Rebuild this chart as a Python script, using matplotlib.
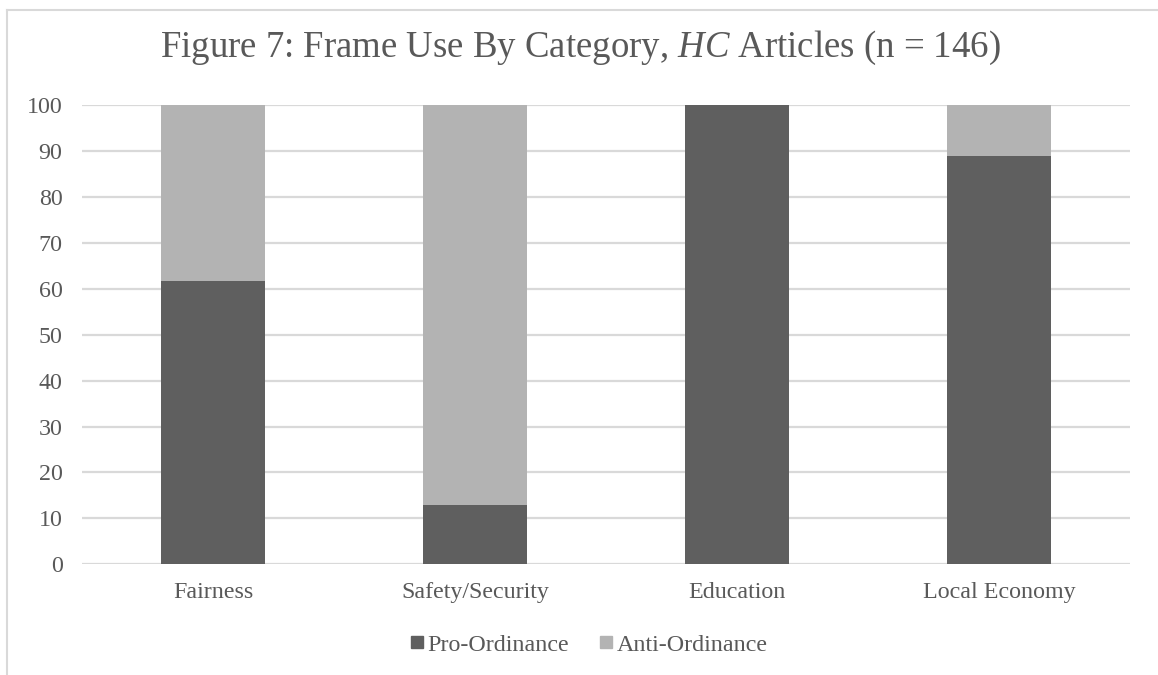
import matplotlib.pyplot as plt
from matplotlib.lines import Line2D

categories = ["Fairness", "Safety/Security", "Education", "Local Economy"]
pro_ordinance = [61.6, 12.9, 100.0, 88.9]
anti_ordinance = [38.4, 87.1, 0.0, 11.1]
y_ticks = [0, 10, 20, 30, 40, 50, 60, 70, 80, 90, 100]

dark = "#5f5f5f"
light = "#b3b3b3"
text_col = "#595959"
grid_col = "#d9d9d9"

plt.rcParams["font.family"] = ["Liberation Serif", "DejaVu Serif"]
plt.rcParams["mathtext.fontset"] = "custom"
plt.rcParams["mathtext.rm"] = "Liberation Serif"
plt.rcParams["mathtext.it"] = "Liberation Serif:italic"

fig = plt.figure(figsize=(11.58, 6.75), dpi=100)
ax = fig.add_axes([0.0708, 0.164, 0.905, 0.6804])

x = range(len(categories))
ax.bar(x, pro_ordinance, width=0.4, color=dark, zorder=3)
ax.bar(x, anti_ordinance, width=0.4, bottom=pro_ordinance, color=light, zorder=3)

ax.set_xlim(-0.5, 3.5)
ax.set_ylim(0, 100)
ax.set_yticks(y_ticks)
ax.set_xticks(list(x))
ax.set_xticklabels(categories)
ax.yaxis.grid(True, color=grid_col, linewidth=1.6, zorder=0)
ax.tick_params(length=0, labelsize=17.3, colors=text_col)
ax.tick_params(axis="x", pad=13)
ax.tick_params(axis="y", pad=14)
for s in ax.spines.values():
    s.set_visible(False)

fig.text(0.501, 0.929, "Figure 7: Frame Use By Category, $\\mathit{HC}$ Articles (n = 146)",
         ha="center", va="center", fontsize=26.5, color=text_col)

handles = [Line2D([], [], marker="s", linestyle="none", markersize=8.6, color=dark),
           Line2D([], [], marker="s", linestyle="none", markersize=8.6, color=light)]
fig.legend(handles, ["Pro-Ordinance", "Anti-Ordinance"], loc="center",
           bbox_to_anchor=(0.509, 0.045), ncol=2, frameon=False, fontsize=17.3,
           labelcolor=text_col, handlelength=0.5, handletextpad=0.2,
           columnspacing=1.3)

# chart border (partly clipped by the canvas edge)
fig.add_artist(Line2D([7.5 / 1158, 7.5 / 1158], [0, 1 - 9.5 / 675],
                      transform=fig.transFigure, color=grid_col, linewidth=1.5))
fig.add_artist(Line2D([7.5 / 1158, 1], [1 - 9.5 / 675, 1 - 9.5 / 675],
                      transform=fig.transFigure, color=grid_col, linewidth=1.5))

fig.savefig("out.png", dpi=100, facecolor="white")
